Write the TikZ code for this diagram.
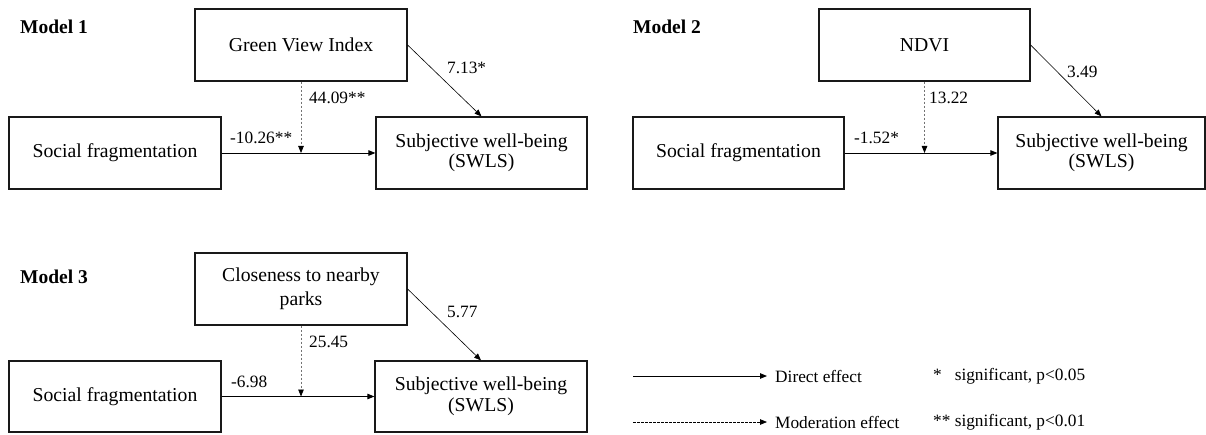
\documentclass[tikz,border=0pt]{standalone}
\usepackage{fontspec}
\setmainfont{Liberation Serif}
\usetikzlibrary{arrows.meta,calc}
\begin{document}
\begin{tikzpicture}[x=1pt,y=-1pt,
  box/.style={draw=black!90,line width=1.2pt,minimum height=72pt,inner sep=0pt,align=center,
    font=\fontsize{19.7}{20.5}\selectfont},
  title/.style={anchor=west,inner sep=0pt,font=\fontsize{19.5}{22}\selectfont\bfseries},
  lbl/.style={anchor=west,inner sep=0pt,font=\fontsize{17.3}{20}\selectfont},
  direct/.style={line width=0.9pt,-{Triangle[length=7pt,width=5.5pt]}},
  diag/.style={line width=0.6pt,-{Triangle[length=7pt,width=5.5pt]}},
  moder/.style={line width=0.8pt,draw=black!55,dash pattern=on 2.5pt off 1.5pt,
    -{Triangle[length=7pt,width=5.5pt,color=black]}},
  legmod/.style={line width=0.8pt,dash pattern=on 2.5pt off 1.5pt,-{Triangle[length=7pt,width=5.5pt]}}
]
\useasboundingbox (0,0) rectangle (1206,435);

% ---------- Model 1 ----------
\node[title] (t1) at (20,27) {Model 1};
\node[box,minimum width=212pt] (gvi) at (301,45) {Green View Index};
\node[box,minimum width=212pt] (sf1) at (115,153) {Social fragmentation};
\node[box,minimum width=211pt] (sw1) at (481.5,153) {Subjective well-being\\(SWLS)};
\coordinate (m1) at (301,153);
\draw[direct] (sf1) -- (sw1);
\draw[moder] (gvi.south) -- (m1);
\draw[diag] (gvi.east) -- (sw1.north);
\node[lbl] (l11) at (447,68) {7.13*};
\node[lbl] (l12) at (309,98) {44.09**};
\node[lbl] (l13) at (230,138) {-10.26**};

% ---------- Model 2 ----------
\node[title] (t2) at (633,27) {Model 2};
\node[box,minimum width=211pt] (ndvi) at (924.5,45) {NDVI};
\node[box,minimum width=211pt] (sf2) at (738.5,153) {Social fragmentation};
\node[box,minimum width=207pt] (sw2) at (1101.5,153) {Subjective well-being\\(SWLS)};
\coordinate (m2) at (924.5,153);
\draw[direct] (sf2) -- (sw2);
\draw[moder] (ndvi.south) -- (m2);
\draw[diag] (ndvi.east) -- (sw2.north);
\node[lbl] (l21) at (1067,72) {3.49};
\node[lbl] (l22) at (929,98) {13.22};
\node[lbl] (l23) at (854,138) {-1.52*};

% ---------- Model 3 ----------
\node[title] (t3) at (20,277) {Model 3};
\node[box,minimum width=212pt,font=\fontsize{19.7}{24}\selectfont] (cl) at (301,289) {Closeness to nearby\\parks};
\node[box,minimum width=212pt,minimum height=71pt] (sf3) at (115,396.5) {Social fragmentation};
\node[box,minimum width=212pt,minimum height=71pt] (sw3) at (481,396.5) {Subjective well-being\\(SWLS)};
\coordinate (m3) at (301,396.5);
\draw[direct] (sf3) -- (sw3);
\draw[moder] (cl.south) -- (m3);
\draw[diag] (cl.east) -- (sw3.north);
\node[lbl] (l31) at (447,312) {5.77};
\node[lbl] (l32) at (309,342) {25.45};
\node[lbl] (l33) at (231,382) {-6.98};

% ---------- Legend ----------
\coordinate (a1) at (633,376);
\coordinate (b1) at (767,376);
\coordinate (a2) at (633,422);
\coordinate (b2) at (767,422);
\draw[direct] (a1) -- (b1);
\draw[legmod] (a2) -- (b2);
\node[lbl] (d1) at (775,376) {Direct effect};
\node[lbl] (d2) at (775,422) {Moderation effect};
\node[lbl] (s1) at (933,376) {\makebox[21.6pt][l]{*}significant, p<0.05};
\node[lbl] (s2) at (933,422) {\makebox[21.6pt][l]{**}significant, p<0.01};
\end{tikzpicture}
\end{document}
